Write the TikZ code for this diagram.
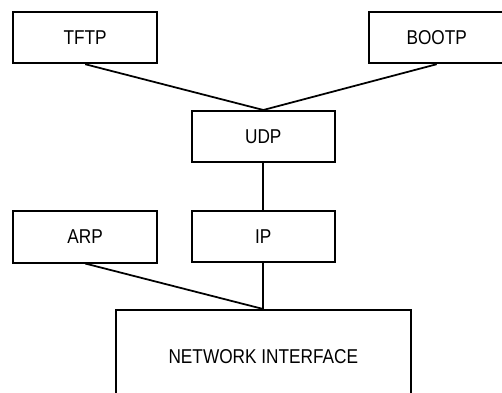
\documentclass[tikz,border=0pt]{standalone}
\usepackage{fontspec}
\setmainfont{Liberation Sans}[FakeStretch=0.86]
\usepackage{tikz}
\usetikzlibrary{positioning}

\begin{document}
\begin{tikzpicture}[x=0.02cm,y=-0.02cm,node distance = 2cm,inner sep=0pt,
  proto/.style={draw=black,line width=1.1pt,minimum width=2.87cm,minimum height=1.03cm,font=\fontsize{11.4}{13}\selectfont},
  link/.style={line width=1pt}]
\useasboundingbox (0,0) rectangle (502,392);
\clip (0,0) rectangle (502,392);

\node[proto] (TFTP) at (85.2,37.5) {TFTP};
\node[proto,minimum width=2.72cm] (BOOTP) at (436.7,37.5) {BOOTP};
\node[proto] (UDP) at (263.3,136.7) {UDP};
\node[proto] (IP) [below of = UDP] {IP};
\node[proto] (ARP) at (85.2,236.8) {ARP};
\node[proto,minimum width=5.9cm,minimum height=1.88cm] (NI) at (263.3,357) {NETWORK INTERFACE};


\draw[link] (TFTP.south) -- (UDP.north);
\draw[link] (BOOTP.south) -- (UDP.north);
\draw[link] (UDP.south) -- (IP.north);
\draw[link] (ARP.south) -- (NI.north);
\draw[link] (IP.south) -- (NI.north);

\end{tikzpicture}
\end{document}
